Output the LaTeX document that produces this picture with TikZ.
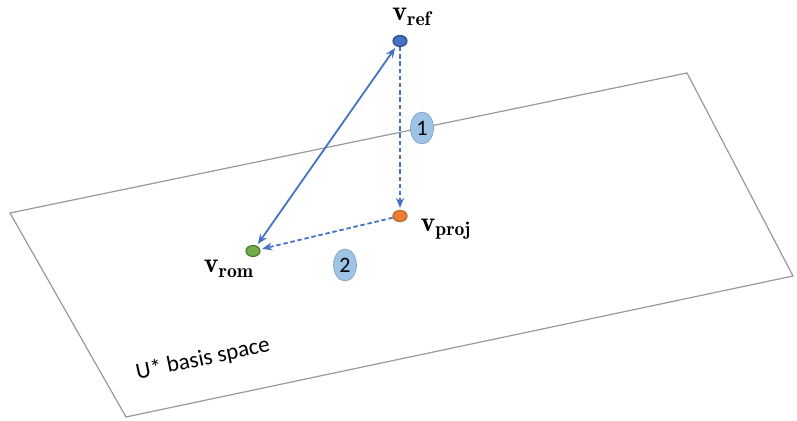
\documentclass[tikz,border=0pt]{standalone}
\usepackage{fontspec}
\newfontfamily\calib{Carlito}
\usetikzlibrary{positioning, calc, shapes.geometric, arrows.meta}
\definecolor{lineblue}{RGB}{68,114,196}
\definecolor{dotorange}{RGB}{237,125,49}
\definecolor{dotgreen}{RGB}{112,173,71}
\definecolor{badgeblue}{RGB}{157,195,230}

\begin{document}
\begin{tikzpicture}[x=0.5pt, y=-0.5pt,
      vec/.style={ellipse, draw, line width=0.6pt, inner sep=0pt, minimum width=7pt, minimum height=5.5pt},
      lbl/.style={font=\fontsize{14}{16}\selectfont},
      badge/.style={ellipse, fill=badgeblue, draw=badgeblue!80!black, line width=0.3pt,
                    minimum width=11.5pt, minimum height=16pt, inner sep=0pt, font=\calib\fontsize{11}{13}\selectfont},
      arrow/.style={-{Stealth[length=5pt, width=4pt]}, lineblue, line width=0.9pt, shorten >=1pt},
      dashline/.style={dash pattern=on 2.2pt off 1.4pt}
    ]
      \useasboundingbox (0,0) rectangle (797,421);
      % the U* plane
      \draw[gray!80, line width=0.6pt] (10,213) -- (687,73) -- (793,276) -- (126,417) -- cycle;
      \node[rotate=12, font=\calib\fontsize{11.5}{13}\selectfont] (space) at (203,359) {U* basis space};

      % vectors
      \node[vec, fill=lineblue, draw=lineblue!70!black] (ref) at (400,41) {};
      \node[vec, fill=dotorange, draw=dotorange!80!black] (proj) at (400,216) {};
      \node[vec, fill=dotgreen, draw=dotgreen!70!black] (rom) at (253,251) {};

      \node[lbl] (reflbl) at (412,17) {$\mathbf{v}_{\mathbf{ref}}$};
      \node[lbl] (projlbl) at (446,229) {$\mathbf{v}_{\mathbf{proj}}$};
      \node[lbl] (romlbl) at (229,269) {$\mathbf{v}_{\mathbf{rom}}$};

      \draw[arrow, {Stealth[length=5pt, width=4pt]}-{Stealth[length=5pt, width=4pt]}, shorten <=1pt] (rom) -- (ref);
      \draw[arrow, dashline] (ref) -- (proj);
      \draw[arrow, dashline] (proj) -- (rom);

      \node[badge] (one) at (422,128) {1};
      \node[badge] (two) at (345,265) {2};
    \end{tikzpicture}
\end{document}
